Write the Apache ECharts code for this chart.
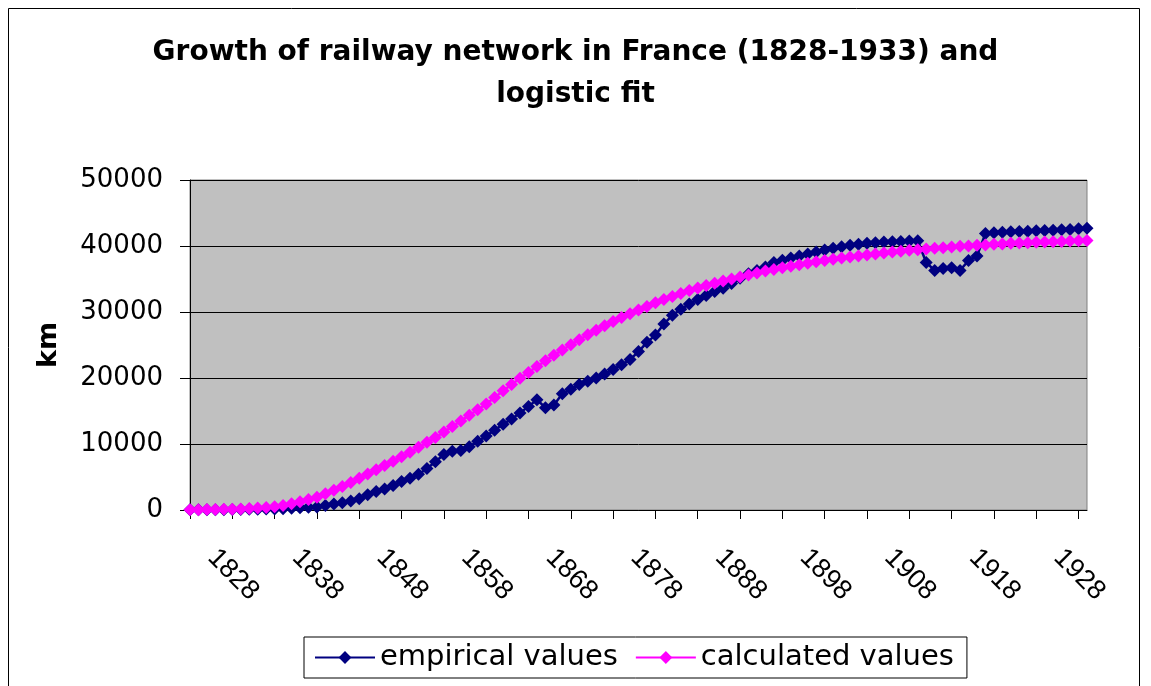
<!DOCTYPE html>
<html>
<head>
<meta charset="utf-8">
<script src="https://cdn.jsdelivr.net/npm/echarts@6/dist/echarts.min.js"></script>
<style>
html,body{margin:0;padding:0;background:#fff;}
#chart{width:1151px;height:686px;}
</style>
</head>
<body>
<div id="chart"></div>
<script>
var years = [
1827,1828,1829,1830,1831,1832,1833,1834,1835,1836,
1837,1838,1839,1840,1841,1842,1843,1844,1845,1846,
1847,1848,1849,1850,1851,1852,1853,1854,1855,1856,
1857,1858,1859,1860,1861,1862,1863,1864,1865,1866,
1867,1868,1869,1870,1871,1872,1873,1874,1875,1876,
1877,1878,1879,1880,1881,1882,1883,1884,1885,1886,
1887,1888,1889,1890,1891,1892,1893,1894,1895,1896,
1897,1898,1899,1900,1901,1902,1903,1904,1905,1906,
1907,1908,1909,1910,1911,1912,1913,1914,1915,1916,
1917,1918,1919,1920,1921,1922,1923,1924,1925,1926,
1927,1928,1929,1930,1931,1932,1933
];
var empiricalValues = [
20,30,40,40,50,60,80,100,120,140,
160,200,250,330,400,450,700,900,1100,1350,
1700,2300,2800,3200,3700,4300,4800,5400,6300,7300,
8400,8900,9000,9600,10400,11200,12100,13000,13800,14700,
15700,16700,15500,15900,17600,18300,19000,19500,20000,20600,
21300,22000,22800,24000,25400,26500,28200,29500,30400,31200,
31900,32500,33100,33600,34300,35100,35800,36300,36800,37500,
37850,38200,38500,38800,39100,39400,39650,39900,40100,40250,
40400,40500,40600,40650,40700,40750,40800,37500,36300,36600,
36700,36300,37800,38500,41900,42000,42100,42150,42200,42250,
42300,42350,42400,42450,42500,42600,42700
];
var calculatedValues = [
30,40,60,80,100,130,170,220,290,370,
480,700,950,1250,1580,1950,2450,3000,3550,4150,
4800,5450,6100,6750,7400,8050,8750,9500,10250,11000,
11800,12650,13500,14350,15200,16050,17050,18050,19000,19950,
20850,21750,22600,23450,24250,25050,25800,26550,27250,27900,
28550,29150,29750,30300,30850,31400,31900,32350,32800,33250,
33650,34000,34350,34700,35000,35300,35600,35900,36200,36450,
36700,36950,37150,37400,37600,37800,38000,38200,38350,38500,
38650,38800,38950,39100,39200,39350,39450,39550,39650,39750,
39850,39950,40000,40100,40150,40250,40300,40400,40450,40500,
40550,40600,40650,40700,40750,40800,40850
];
var seriesNames = ['empirical values', 'calculated values'];
var yTicks = {min: 0, max: 50000, interval: 10000};
var titleText = 'Growth of railway network in France (1828-1933) and\nlogistic fit';

var chart = echarts.init(document.getElementById('chart'), null, {renderer: 'canvas'});
var option = {
  backgroundColor: '#ffffff',
  animation: false,
  title: {
    text: titleText,
    left: 'center',
    top: 27,
    textStyle: {
      fontFamily: 'DejaVu Sans',
      fontWeight: 'bold',
      fontSize: 28,
      lineHeight: 42,
      color: '#000'
    }
  },
  graphic: [{
    type: 'rect',
    silent: true,
    shape: {x: 8.5, y: 8.5, width: 1131, height: 700},
    style: {fill: 'none', stroke: '#000', lineWidth: 1}
  }],
  legend: {
    data: seriesNames,
    left: 304,
    top: 637,
    itemWidth: 60,
    itemHeight: 16,
    itemGap: 17,
    padding: [6, 13, 6, 10],
    borderColor: '#000',
    borderWidth: 1,
    textStyle: {fontFamily: 'DejaVu Sans', fontSize: 29, color: '#000'}
  },
  grid: {
    left: 190, right: 64, top: 180, bottom: 176,
    show: true,
    backgroundColor: '#C0C0C0',
    borderColor: '#808080',
    borderWidth: 1
  },
  xAxis: {
    type: 'category',
    data: years,
    boundaryGap: false,
    axisLine: {show: true, lineStyle: {color: '#000', width: 1}},
    axisTick: {
      show: true,
      length: 9,
      interval: function (index) { return index % 5 === 0; },
      lineStyle: {color: '#000'}
    },
    axisLabel: {
      interval: function (index) { return index % 10 === 1; },
      rotate: -45,
      margin: 30,
      padding: [0, 0, 0, 19],
      fontFamily: 'Liberation Sans',
      fontSize: 27,
      color: '#000'
    },
    splitLine: {show: false}
  },
  yAxis: {
    type: 'value',
    min: yTicks.min,
    max: yTicks.max,
    interval: yTicks.interval,
    name: 'km',
    nameLocation: 'middle',
    nameRotate: 90,
    nameGap: 128,
    nameTextStyle: {fontFamily: 'DejaVu Sans', fontWeight: 'bold', fontSize: 27, color: '#000'},
    axisLine: {show: true, lineStyle: {color: '#000', width: 1}},
    axisTick: {show: true, length: 10, lineStyle: {color: '#000'}},
    axisLabel: {
      fontFamily: 'DejaVu Sans', fontSize: 26, margin: 27, color: '#000',
      formatter: function (v) { return String(v); }
    },
    splitLine: {show: true, lineStyle: {color: '#000', width: 1}}
  },
  series: [{
    name: seriesNames[0],
    type: 'line',
    data: empiricalValues,
    symbol: 'diamond',
    symbolSize: 13,
    showAllSymbol: true,
    clip: false,
    lineStyle: {color: '#000080', width: 2.5},
    itemStyle: {color: '#000080'}
  }, {
    name: seriesNames[1],
    type: 'line',
    data: calculatedValues,
    symbol: 'diamond',
    symbolSize: 13,
    showAllSymbol: true,
    clip: false,
    lineStyle: {color: '#FF00FF', width: 2.5},
    itemStyle: {color: '#FF00FF'}
  }]
};
chart.setOption(option);
</script>
</body>
</html>
